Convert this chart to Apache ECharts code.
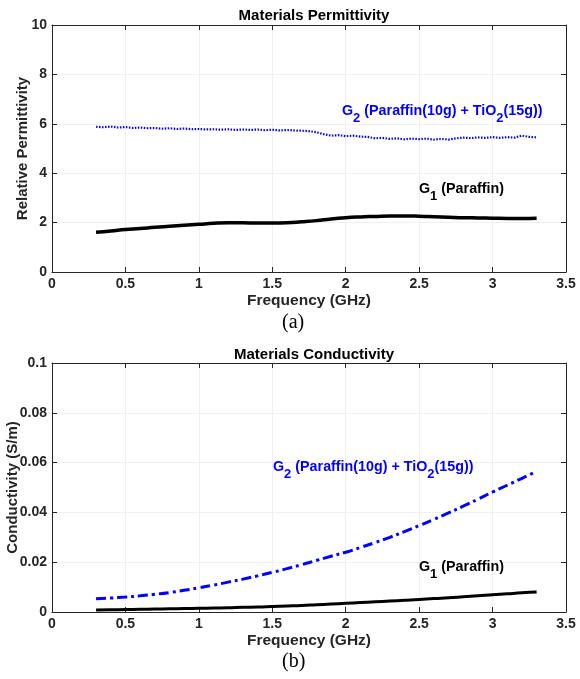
<!DOCTYPE html>
<html><head><meta charset="utf-8">
<script src="https://cdn.jsdelivr.net/npm/echarts@6/dist/echarts.min.js"></script>
<style>html,body{margin:0;padding:0;background:#fff}#c{width:580px;height:679px}</style>
</head><body><div id="c"></div>
<script>
// ---- Data ----
const xTicks = [0, 0.5, 1, 1.5, 2, 2.5, 3, 3.5];
const permTicks = [0, 2, 4, 6, 8, 10];
const condTicks = [0, 0.02, 0.04, 0.06, 0.08, 0.1];

const freqFine = [0.30,0.35,0.40,0.45,0.50,0.55,0.60,0.65,0.70,0.75,0.80,0.85,0.90,0.95,1.00,1.05,1.10,1.15,1.20,1.25,1.30,1.35,1.40,1.45,1.50,1.55,1.60,1.65,1.70,1.75,1.80,1.85,1.90,1.95,2.00,2.05,2.10,2.15,2.20,2.25,2.30,2.35,2.40,2.45,2.50,2.55,2.60,2.65,2.70,2.75,2.80,2.85,2.90,2.95,3.00,3.05,3.10,3.15,3.20,3.25,3.30];
const permG2 = [5.88,5.86,5.89,5.85,5.87,5.83,5.85,5.82,5.83,5.80,5.82,5.79,5.81,5.78,5.79,5.77,5.78,5.76,5.78,5.75,5.77,5.75,5.77,5.74,5.76,5.73,5.75,5.73,5.72,5.70,5.66,5.58,5.52,5.54,5.50,5.52,5.48,5.47,5.41,5.43,5.39,5.41,5.37,5.40,5.38,5.40,5.36,5.39,5.36,5.41,5.44,5.42,5.45,5.43,5.46,5.43,5.46,5.44,5.52,5.47,5.45];

const freq = [0.3,0.4,0.5,0.6,0.7,0.8,0.9,1.0,1.1,1.2,1.3,1.4,1.5,1.6,1.7,1.8,1.9,2.0,2.1,2.2,2.3,2.4,2.5,2.6,2.7,2.8,2.9,3.0,3.1,3.2,3.3];
const permG1 = [1.61,1.66,1.72,1.76,1.81,1.85,1.89,1.93,1.97,1.99,1.99,1.98,1.98,1.99,2.03,2.08,2.15,2.20,2.23,2.25,2.27,2.27,2.26,2.24,2.22,2.20,2.19,2.18,2.17,2.17,2.18];
const condG2 = [0.0053,0.0056,0.0060,0.0065,0.0071,0.0078,0.0087,0.0097,0.0108,0.0120,0.0132,0.0145,0.0159,0.0174,0.0190,0.0207,0.0224,0.0240,0.0259,0.0279,0.0300,0.0323,0.0347,0.0372,0.0398,0.0425,0.0453,0.0482,0.0509,0.0537,0.0565];
const condG1 = [0.0008,0.0009,0.0010,0.0011,0.0012,0.0013,0.0014,0.0015,0.0016,0.0017,0.0019,0.0020,0.0022,0.0024,0.0026,0.0029,0.0032,0.0035,0.0038,0.0041,0.0044,0.0047,0.0050,0.0054,0.0057,0.0061,0.0065,0.0069,0.0073,0.0077,0.0080];

const titles = ['Materials Permittivity', 'Materials Conductivity'];
const yNames = ['Relative Permittivity', 'Conductivity (S/m)'];
const xName = 'Frequency (GHz)';
const captions = ['(a)', '(b)'];
const labelG2 = ['G', '2', ' (Paraffin(10g) + TiO', '2', '(15g))'];
const labelG1 = ['G', '1', ' (Paraffin)'];

// ---- Chart ----
const FONT = '"Liberation Sans", Arial, sans-serif';
const AX = '#262626';
const GRIDC = '#efefef';
const pair = (xs, ys) => xs.map((x, i) => [x, ys[i]]);

const grids = [
  {left: 52, right: 14, top: 25, height: 247, containLabel: false, outerBoundsMode: 'none'},
  {left: 52, right: 14, top: 363, height: 249, containLabel: false, outerBoundsMode: 'none'}
];
const yMax = [10, 0.1], yInt = [2, 0.02];
const TICK = {show: true, inside: true, length: 5, lineStyle: {color: AX, width: 1}};
const LINE = {show: true, onZero: false, lineStyle: {color: AX, width: 1}};

const xAxes = [], yAxes = [];
grids.forEach((g, i) => {
  xAxes.push({
    gridIndex: i, type: 'value', position: 'bottom', min: 0, max: 3.5, interval: 0.5,
    name: xName, nameLocation: 'middle', nameGap: 21, nameMoveOverlap: false,
    nameTextStyle: {fontFamily: FONT, fontWeight: 'bold', fontSize: 15.5, color: AX},
    axisLine: LINE, axisTick: TICK,
    axisLabel: {fontFamily: FONT, fontWeight: 'bold', fontSize: 14, color: AX, margin: 5,
      formatter: v => String(v)},
    splitLine: {show: true, lineStyle: {color: GRIDC, width: 1}}
  });
  xAxes.push({
    gridIndex: i, type: 'value', position: 'top', min: 0, max: 3.5, interval: 0.5,
    axisLine: LINE, axisTick: TICK,
    axisLabel: {show: false}, splitLine: {show: false}
  });
  yAxes.push({
    gridIndex: i, type: 'value', position: 'left', min: 0, max: yMax[i], interval: yInt[i],
    name: yNames[i], nameLocation: 'middle', nameGap: i === 0 ? 22 : 32, nameMoveOverlap: false,
    nameTextStyle: {fontFamily: FONT, fontWeight: 'bold', fontSize: 15, color: AX},
    axisLine: LINE, axisTick: TICK,
    axisLabel: {fontFamily: FONT, fontWeight: 'bold', fontSize: 14, color: AX, margin: 5,
      formatter: v => String(+v.toFixed(2))},
    splitLine: {show: true, lineStyle: {color: GRIDC, width: 1}}
  });
  yAxes.push({
    gridIndex: i, type: 'value', position: 'right', min: 0, max: yMax[i], interval: yInt[i],
    axisLine: LINE, axisTick: TICK,
    axisLabel: {show: false}, splitLine: {show: false}
  });
});

const series = [
  {type: 'line', xAxisIndex: 0, yAxisIndex: 0, data: pair(freqFine, permG2), showSymbol: false,
   lineStyle: {color: '#0000ff', width: 2.2, type: [1.5, 1.5]}, z: 3},
  {type: 'line', xAxisIndex: 0, yAxisIndex: 0, data: pair(freq, permG1), showSymbol: false, smooth: true,
   lineStyle: {color: '#000', width: 3.5}, z: 3},
  {type: 'line', xAxisIndex: 2, yAxisIndex: 2, data: pair(freq, condG2), showSymbol: false, smooth: true,
   lineStyle: {color: '#0000ff', width: 3, type: [10, 4, 3, 4]}, z: 3},
  {type: 'line', xAxisIndex: 2, yAxisIndex: 2, data: pair(freq, condG1), showSymbol: false, smooth: true,
   lineStyle: {color: '#000', width: 3}, z: 3}
];

function richLabel(parts, x, y, color) {
  const text = parts.map((p, i) => (i % 2 === 0 ? '{a|' : '{s|') + p + '}').join('');
  return {
    type: 'text', left: x, top: y, z: 10,
    style: {
      text: text, fill: color,
      rich: {
        a: {fontFamily: FONT, fontWeight: 'bold', fontSize: 14.3, fill: color, color: color, lineHeight: 21, verticalAlign: 'top'},
        s: {fontFamily: FONT, fontWeight: 'bold', fontSize: 13, fill: color, color: color, lineHeight: 21, verticalAlign: 'bottom'}
      }
    }
  };
}

const graphic = [
  richLabel(labelG2, 342, 104, '#0000ff'),
  richLabel(labelG1, 419, 182, '#000'),
  richLabel(labelG2, 273, 460, '#0000ff'),
  richLabel(labelG1, 419, 560, '#000'),
  {type: 'text', left: 282, top: 313, style: {text: captions[0], font: '20px "Liberation Serif", serif', fill: '#000'}},
  {type: 'text', left: 282, top: 652, style: {text: captions[1], font: '20px "Liberation Serif", serif', fill: '#000'}}
];

const chart = echarts.init(document.getElementById('c'), null, {renderer: 'canvas'});
chart.setOption({
  animation: false,
  backgroundColor: '#fff',
  title: [
    {text: titles[0], left: 309, top: 3, textAlign: 'center', textStyle: {fontFamily: FONT, fontWeight: 'bold', fontSize: 15, color: '#000'}},
    {text: titles[1], left: 309, top: 342, textAlign: 'center', textStyle: {fontFamily: FONT, fontWeight: 'bold', fontSize: 15, color: '#000'}}
  ],
  grid: grids,
  xAxis: xAxes,
  yAxis: yAxes,
  series: series,
  graphic: graphic
});
</script>
</body></html>
